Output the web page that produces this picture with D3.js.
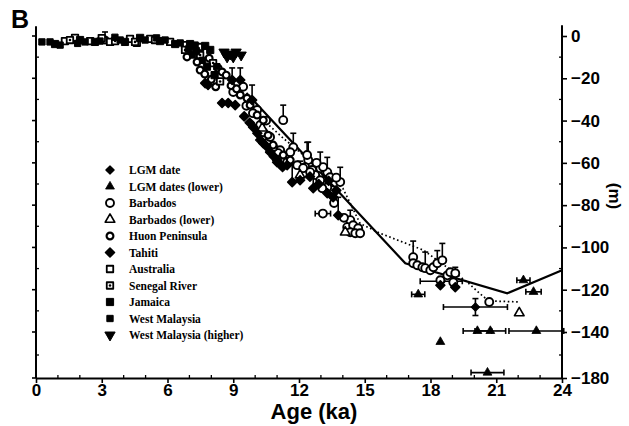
<!DOCTYPE html>
<html><head><meta charset="utf-8">
<script src="https://cdn.jsdelivr.net/npm/d3@7"></script>
<style>body{margin:0;background:#fff}</style>
</head><body>
<svg id="c" width="629" height="426"></svg>
<script>
// ---- tick values ----
const xTicks = [0, 3, 6, 9, 12, 15, 18, 21, 24];
const xMinor = [1, 2, 4, 5, 7, 8, 10, 11, 13, 14, 16, 17, 19, 20, 22, 23];
const yTicks = [0, -20, -40, -60, -80, -100, -120, -140, -180];
const yMinor = [-10, -30, -50, -70, -90, -110, -130, -160];

// ---- series: [age ka, depth m, age err, err up (m), err down (m)] ----
const lgmDate = [[20.05, -128.2, 1.46, 4, 4], [18.49, -116, 0.96]];
const lgmLower = [[20.14, -139.5, 0.65], [20.73, -139.5, 0.7], [22.83, -139.5, 1.25], [18.45, -148.6],
  [20.6, -175.3, 0.75], [17.44, -122.2, 0.3], [22.24, -115.5, 0.3], [22.7, -121, 0.35]];
const barbados = [[11.74, -52.6, 0, 6.6], [12.42, -58.7, 0, 8.5], [12.97, -62.5, 0, 7.6], [13.29, -64.4, 0, 7],
  [13.88, -69.1, 0, 7], [11.28, -39.8, 0, 7.1], [12.37, -56.3, 0, 6],
  [14.34, -87.1, 0, 4.7], [14.2, -90.4], [14.47, -89.5], [14.7, -90.9], [14.34, -92.8], [14.57, -93.3], [14.79, -93.3],
  [12.28, -62], [12.6, -63.4], [12.74, -65.8], [12.97, -68.2], [13.1, -62], [13.42, -66.8], [13.52, -72.9],
  [13.29, -71.5], [13.06, -72], [11.92, -61.1], [12.19, -62.5], [12.51, -64.4], [11.14, -54],
  [9.0, -26.5], [10.23, -42.1], [10.37, -45.5], [10.55, -50.7], [11.05, -55.4], [11.23, -57.8], [11.46, -59.7],
  [10.09, -35], [10.68, -47.8], [10.82, -52.6], [9.45, -24], [9.6, -33], [9.9, -36.5], [10.5, -40], [11.6, -55],
  [12.8, -60], [13.7, -67], [13.6, -79], [14.05, -86],
  [17.21, -104.6, 0, 7.6], [17.21, -107.5], [17.4, -108.4], [17.63, -109.4], [17.76, -109.8, 0, 7.6], [17.99, -110.8],
  [18.13, -109.4], [18.31, -107.5, 0, 6], [18.54, -106.1, 0, 8], [18.45, -115.5], [18.77, -113.2], [18.9, -111.7],
  [19.04, -116.5], [19.13, -112.2, 0, 2.8], [20.68, -125.8], [13.09, -84, 0.35]];
const barbadosLower = [[22.05, -131], [10.32, -43.6], [12.05, -65.8], [14.11, -92.8]];
const huon = [[6.89, -9.9, 0, 4], [7.35, -12.3, 0, 4], [7.49, -16.1], [8.31, -15.2], [8.49, -17.0], [8.68, -18.5],
  [9.32, -27.9], [9.63, -29.4], [9.77, -32.7], [10.09, -37.4], [10.37, -39.8], [10.59, -46.9], [10.82, -51.6],
  [11.28, -56.3], [11.6, -58.7], [3.15, -1.9, 0, 3.8], [7.7, -18], [8.0, -20.5], [8.2, -24], [8.9, -23.5],
  [9.15, -25], [7.1, -7.5], [7.9, -10.5]];
const tahiti = [[8.95, -20.8, 0, 5.7], [9.32, -20.8, 0, 5.7], [9.86, -30.3, 0, 7.1], [11.69, -69.1, 0, 9],
  [12.05, -68.2, 0, 9], [12.65, -72, 0, 8], [13.29, -74.3, 0, 6], [13.56, -76.2, 0, 5], [13.79, -84.8, 0, 8.5],
  [7.72, -22.3], [7.85, -23.2], [8.77, -31.7], [8.49, -31.7], [9.09, -32.7], [9.91, -43.1], [10.23, -49.2],
  [10.37, -50.7], [10.68, -54.9], [11.0, -59.7], [11.46, -61.1], [11.0, -58.7], [18.45, -117.9], [19.13, -118.8],
  [9.5, -38], [9.75, -41], [10.1, -46], [10.5, -52], [10.85, -57], [11.25, -62], [12.5, -66.5], [12.9, -70],
  [13.35, -68.5], [13.7, -73]];
const australia = [[1.32, -2.4], [1.78, -0.9], [2.47, -2.4], [3.38, -2.8], [4.29, -1.4], [5.21, -1.4],
  [6.12, -2.8], [6.80, -4.3], [7.49, -5.2], [3.0, -1.0], [4.6, -3.2]];
const senegal = [[1.55, -1.9], [3.61, -2.4], [4.52, -2.8], [5.43, -1.9], [6.80, -6.6], [7.49, -9.0], [8.08, -12.8],
  [8.4, -21.5]];
const jamaica = [[0.87, -3.8], [2.01, -1.9], [2.69, -2.8], [4.06, -2.8], [4.75, -0.9], [5.66, -2.4], [6.35, -3.8],
  [7.03, -3.8], [7.72, -4.7], [7.95, -6.6], [7.3, -7.2], [7.8, -14.5], [8.15, -18.5]];
const westMalaysia = [[0.27, -2.8], [0.64, -2.8], [1.10, -4.3], [2.24, -2.8], [2.92, -2.4], [3.84, -1.9],
  [4.98, -1.9], [5.89, -1.9], [6.58, -3.3], [7.26, -4.3], [6.95, -6.2], [7.15, -9], [7.6, -11.5], [8.25, -14.5],
  [1.9, -3.5], [3.6, -0.6], [5.5, -0.9]];
const westMalaysiaHigher = [[8.58, -7.6], [8.86, -8.5], [9.13, -7.6], [9.36, -9.0], [8.72, -9.9], [9.0, -9.9]];

// ---- model curves [age, depth] ----
const solidCurve = [[9.6, -27], [16.85, -107.5], [21.5, -121.7], [24, -110.8]];
const dottedCurve = [[10.5, -41], [11.28, -48.3], [14.0, -72], [14.79, -88.7], [15.7, -93.3], [17.68, -101.3],
  [19.67, -116.3], [20.12, -120.6], [20.65, -125.3], [22.1, -125.8]];

const legendLabels = ["LGM date", "LGM dates (lower)", "Barbados", "Barbados (lower)", "Huon Peninsula", "Tahiti",
  "Australia", "Senegal River", "Jamaica", "West Malaysia", "West Malaysia (higher)"];
const legendKeys = ["lgmDate", "lgmLower", "barbados", "barbadosLower", "huon", "tahiti", "australia", "senegal",
  "jamaica", "westMalaysia", "westMalaysiaHigher"];
const seriesData = {lgmDate, lgmLower, barbados, barbadosLower, huon, tahiti, australia, senegal, jamaica,
  westMalaysia, westMalaysiaHigher};

// ---- layout ----
const svg = d3.select("#c");
const x = d3.scaleLinear().domain([0, 24]).range([36, 562]);
const y = d3.scaleLinear().domain([0, -140, -180]).range([36, 332, 378]);
const yTop = 6;
const fmt = d => d === 0 ? "0" : "\u2212" + Math.abs(d);
const tickFont = "'Liberation Sans', Arial, sans-serif";

const symbolRhomb = {
  draw(ctx, size) {
    const r = Math.sqrt(size / 2);
    ctx.moveTo(0, -r); ctx.lineTo(r, 0); ctx.lineTo(0, r); ctx.lineTo(-r, 0); ctx.closePath();
  }
};

// symbols
const sym = {
  lgmDate: {type: symbolRhomb, size: 34, fill: "#000", stroke: 1.2},
  lgmLower: {type: d3.symbolTriangle, size: 34, fill: "#000"},
  barbados: {type: d3.symbolCircle, size: 50, fill: "#fff", stroke: 1.9},
  barbadosLower: {type: d3.symbolTriangle, size: 40, fill: "#fff", stroke: 1.6},
  huon: {type: d3.symbolCircle, size: 36, fill: "#fff", stroke: 2.2},
  tahiti: {type: symbolRhomb, size: 40, fill: "#000", stroke: 1.6},
  australia: {type: d3.symbolSquare, size: 42, fill: "#fff", stroke: 1.8},
  senegal: {type: d3.symbolSquare, size: 42, fill: "#fff", stroke: 1.8, dot: true},
  jamaica: {type: d3.symbolSquare, size: 52, fill: "#000", stroke: 1},
  westMalaysia: {type: d3.symbolSquare, size: 40, fill: "#000", stroke: 1},
  westMalaysiaHigher: {type: d3.symbolTriangle, size: 46, fill: "#000", rot: 180, stroke: 1}
};

function drawSymbol(g, key, cx, cy) {
  const s = sym[key];
  g.append("path")
    .attr("d", d3.symbol().type(s.type).size(s.size)())
    .attr("transform", `translate(${cx},${cy})` + (s.rot ? ` rotate(${s.rot})` : ""))
    .attr("fill", s.fill)
    .attr("stroke", "#000")
    .attr("stroke-linejoin", "round")
    .attr("stroke-width", s.stroke || 0.8);
  if (s.dot) g.append("circle").attr("cx", cx).attr("cy", cy).attr("r", 1.3).attr("fill", "#000");
}

// axes
svg.append("line").attr("x1", x(0)).attr("x2", x(0)).attr("y1", y(yTop) + 3).attr("y2", y(-180))
  .attr("stroke", "#000").attr("stroke-width", 2);

const xAxis = svg.append("g").attr("transform", `translate(0,${y(-180)})`)
  .call(d3.axisBottom(x).tickValues(xTicks).tickSize(5).tickSizeOuter(0).tickFormat(d3.format("d")));
xAxis.select(".domain").attr("stroke-width", 2);
xAxis.selectAll(".tick line").attr("stroke-width", 1.6);
xAxis.selectAll("text").attr("font-family", tickFont).attr("font-weight", "bold").attr("font-size", 17)
  .attr("dy", "0.78em").attr("y", 5);
svg.append("g").selectAll("line").data(xMinor).join("line")
  .attr("x1", d => x(d)).attr("x2", d => x(d)).attr("y1", y(-180)).attr("y2", y(-180) - 3)
  .attr("stroke", "#000").attr("stroke-width", 1.3);

const yAxis = svg.append("g").attr("transform", `translate(${x(24)},0)`)
  .call(d3.axisRight(y).tickValues(yTicks).tickSize(5).tickSizeOuter(0).tickFormat(fmt));
yAxis.select(".domain").attr("d", `M0,${y(yTop) + 2}V${y(-180)}`).attr("stroke-width", 2);
yAxis.selectAll(".tick line").attr("stroke-width", 1.6);
yAxis.selectAll("text").attr("font-family", tickFont).attr("font-weight", "bold").attr("font-size", 17).attr("x", 9);
svg.append("g").selectAll("line").data(yMinor).join("line")
  .attr("x1", x(24) - 3).attr("x2", x(24)).attr("y1", d => y(d)).attr("y2", d => y(d))
  .attr("stroke", "#000").attr("stroke-width", 1.3);
svg.append("g").selectAll("line").data(yTicks).join("line")
  .attr("x1", x(0) - 4).attr("x2", x(0)).attr("y1", d => y(d)).attr("y2", d => y(d))
  .attr("stroke", "#000").attr("stroke-width", 1.6);
svg.append("g").selectAll("line").data(yMinor).join("line")
  .attr("x1", x(0)).attr("x2", x(0) + 3).attr("y1", d => y(d)).attr("y2", d => y(d))
  .attr("stroke", "#000").attr("stroke-width", 1.3);

// curves
const line = d3.line().x(d => x(d[0])).y(d => y(d[1]));
svg.append("path").attr("d", line(solidCurve)).attr("fill", "none").attr("stroke", "#000").attr("stroke-width", 2.2);
svg.append("path").attr("d", line(dottedCurve)).attr("fill", "none").attr("stroke", "#000")
  .attr("stroke-width", 1.7).attr("stroke-dasharray", "1.6,2.6");

// error bars
const eb = svg.append("g").attr("stroke", "#000").attr("stroke-width", 1.6);
legendKeys.forEach(k => {
  seriesData[k].forEach(p => {
    const [a, d, ea = 0, up = 0, dn = 0] = p;
    const cx = x(a), cy = y(d);
    if (ea > 0) {
      eb.append("line").attr("x1", x(a - ea)).attr("x2", x(a + ea)).attr("y1", cy).attr("y2", cy);
      eb.append("line").attr("x1", x(a - ea)).attr("x2", x(a - ea)).attr("y1", cy - 3).attr("y2", cy + 3);
      eb.append("line").attr("x1", x(a + ea)).attr("x2", x(a + ea)).attr("y1", cy - 3).attr("y2", cy + 3);
    }
    if (up > 0) {
      const ty = y(d + up);
      eb.append("line").attr("x1", cx).attr("x2", cx).attr("y1", cy).attr("y2", ty);
      eb.append("line").attr("x1", cx - 3).attr("x2", cx + 3).attr("y1", ty).attr("y2", ty);
    }
    if (dn > 0) {
      const by = y(d - dn);
      eb.append("line").attr("x1", cx).attr("x2", cx).attr("y1", cy).attr("y2", by);
      eb.append("line").attr("x1", cx - 3).attr("x2", cx + 3).attr("y1", by).attr("y2", by);
    }
  });
});

// markers
const mk = svg.append("g");
legendKeys.forEach(k => seriesData[k].forEach(p => drawSymbol(mk, k, x(p[0]), y(p[1]))));

// legend
const lg = svg.append("g");
const ly = d3.scaleLinear().domain([0, 10]).range([170, 335]);
legendKeys.forEach((k, i) => {
  drawSymbol(lg, k, 110, ly(i));
  lg.append("text").attr("x", 129).attr("y", ly(i) + 4).text(legendLabels[i])
    .attr("font-family", "'Liberation Serif', 'Times New Roman', serif").attr("font-weight", "bold")
    .attr("font-size", 11.5);
});

// titles
svg.append("text").attr("x", 11).attr("y", 28).text("B")
  .attr("font-family", tickFont).attr("font-weight", "bold").attr("font-size", 25);
svg.append("text").attr("x", 314).attr("y", 419).attr("text-anchor", "middle").text("Age (ka)")
  .attr("font-family", tickFont).attr("font-weight", "bold").attr("font-size", 22);
svg.append("text").attr("transform", "translate(609,196) rotate(90)").attr("text-anchor", "middle").text("(m)")
  .attr("font-family", tickFont).attr("font-weight", "bold").attr("font-size", 17);
</script>
</body></html>
